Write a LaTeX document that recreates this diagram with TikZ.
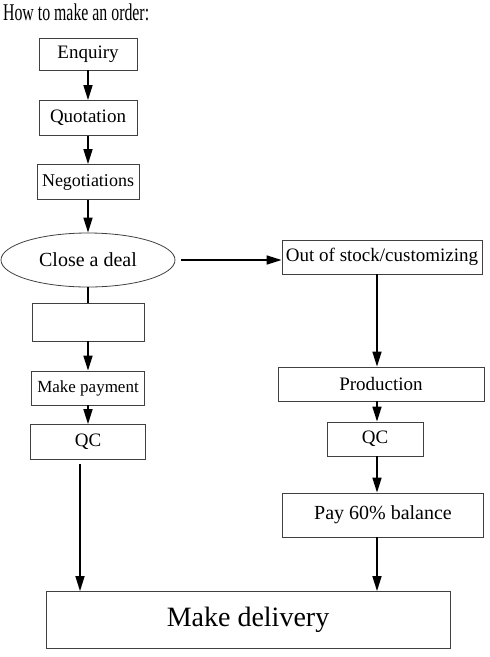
\documentclass[tikz,border=0pt]{standalone}
\usepackage{fontspec}
\setmainfont{Liberation Serif}
\usepackage{tikz}
\usetikzlibrary{arrows.meta, shapes.geometric}

\begin{document}
\begin{tikzpicture}[x=1pt, y=-1pt,
  box/.style={draw=black!75, line width=0.8pt, inner sep=0pt, font=\fontsize{19}{22}\selectfont},
  arr/.style={draw, line width=1.6pt, -{Triangle[length=15pt, width=9pt]}}]
  \useasboundingbox (0,0) rectangle (490,657);

  % Titel
  \node[anchor=base west, inner sep=0pt, xscale=0.66, font=\fontsize{24}{26}\selectfont] (title) at (3,20) {How to make an order:};

  % linke Spalte
  \node[box, minimum width=98pt, minimum height=32pt] (enquiry) at (88,54) {Enquiry};
  \node[box, minimum width=98pt, minimum height=35pt] (quotation) at (88,118) {Quotation};
  \node[box, minimum width=102pt, minimum height=35pt, font=\fontsize{18}{22}\selectfont] (negotiations) at (88,182) {Negotiations};
  \node[box, ellipse, minimum width=174pt, minimum height=54pt, font=\fontsize{20}{22}\selectfont] (deal) at (88,260) {Close a deal};
  \node[box, minimum width=112pt, minimum height=38pt] (deposit) at (88,322) {};
  \node[box, minimum width=113pt, minimum height=34pt, font=\fontsize{17}{20}\selectfont] (payment) at (88,388) {Make payment};
  \node[box, minimum width=115pt, minimum height=35pt] (qcleft) at (88,442) {QC};

  % rechte Spalte
  \coordinate (rcol) at (377,0);
  \node[box, minimum width=200pt, minimum height=34pt] (stock) at (382,257) {Out of stock/customizing};
  \node[box, minimum width=206pt, minimum height=34pt] (production) at (381,384) {Production};
  \node[box, minimum width=96pt, minimum height=34pt] (qcright) at (375,439) {QC};
  \node[box, minimum width=201pt, minimum height=44pt, font=\fontsize{20}{22}\selectfont] (balance) at (383,515) {Pay 60\% balance};

  % Lieferung
  \node[box, minimum width=404pt, minimum height=57pt, font=\fontsize{28}{30}\selectfont] (delivery) at (248,620) {Make delivery};

  % Pfeile links
  \draw[arr] (enquiry) -- (quotation);
  \draw[arr] (quotation) -- (negotiations);
  \draw[arr] (negotiations) -- (deal);
  \draw[line width=1.6pt] (deal) -- (deposit);
  \draw[arr] (deposit) -- (payment);
  \draw[arr] (payment) -- (qcleft);
  \draw[arr] ([xshift=-8pt, yshift=-4pt]qcleft.south) -- ([xshift=-8pt]qcleft.south |- delivery.north);

  % Pfeile rechts
  \draw[arr] ([xshift=6pt]deal.east) -- (deal.east -| stock.west);
  \draw[arr] (stock.south -| rcol) -- (production.north -| rcol);
  \draw[arr] (production.south -| rcol) -- (qcright.north -| rcol);
  \draw[arr] (qcright.south -| rcol) -- (balance.north -| rcol);
  \draw[arr] (balance.south -| rcol) -- (delivery.north -| rcol);
\end{tikzpicture}
\end{document}
